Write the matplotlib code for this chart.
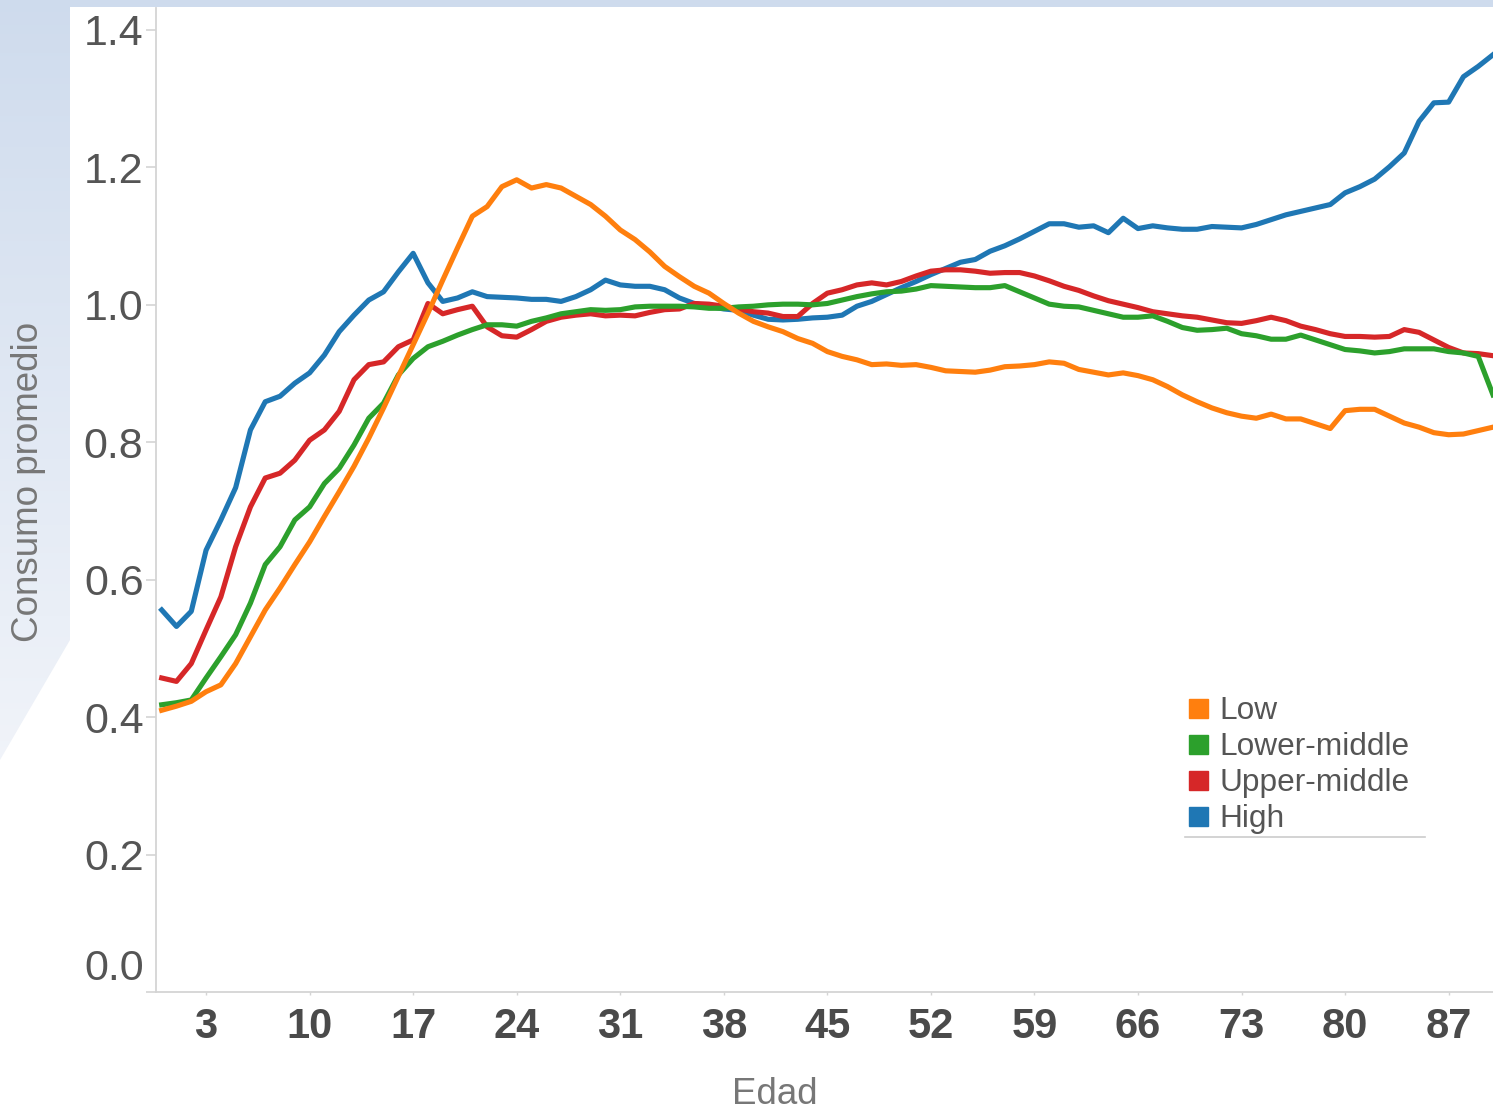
import numpy as np
import matplotlib.pyplot as plt
from matplotlib.patches import Polygon, Rectangle
from matplotlib.transforms import offset_copy

plt.rcParams['font.family'] = ['Liberation Sans', 'DejaVu Sans']

# Data
ages = np.arange(0, 91)

low = [0.410, 0.416, 0.423, 0.437, 0.447, 0.478, 0.517, 0.556, 0.588, 0.622,
       0.655, 0.692, 0.728, 0.765, 0.806, 0.850, 0.896, 0.942, 0.988, 1.036,
       1.083, 1.129, 1.143, 1.172, 1.182, 1.170, 1.175, 1.170, 1.158, 1.146,
       1.129, 1.109, 1.095, 1.077, 1.056, 1.041, 1.027, 1.017, 1.002, 0.988,
       0.976, 0.968, 0.961, 0.951, 0.944, 0.932, 0.925, 0.920, 0.913, 0.914,
       0.912, 0.913, 0.909, 0.904, 0.903, 0.902, 0.905, 0.910, 0.911, 0.913,
       0.917, 0.915, 0.906, 0.902, 0.898, 0.901, 0.897, 0.891, 0.881, 0.869,
       0.859, 0.850, 0.843, 0.838, 0.835, 0.841, 0.834, 0.834, 0.827, 0.820,
       0.846, 0.848, 0.848, 0.838, 0.828, 0.822, 0.814, 0.811, 0.812, 0.817,
       0.822]

lower_middle = [0.418, 0.421, 0.425, 0.457, 0.488, 0.520, 0.566, 0.622, 0.648, 0.687,
                0.706, 0.740, 0.762, 0.796, 0.835, 0.857, 0.898, 0.922, 0.939, 0.947,
                0.956, 0.964, 0.971, 0.971, 0.969, 0.976, 0.981, 0.987, 0.990, 0.993,
                0.992, 0.993, 0.997, 0.998, 0.998, 0.998, 0.997, 0.995, 0.995, 0.997,
                0.998, 1.000, 1.001, 1.001, 1.000, 1.002, 1.007, 1.012, 1.016, 1.019,
                1.020, 1.023, 1.028, 1.027, 1.026, 1.025, 1.025, 1.028, 1.019, 1.010,
                1.001, 0.998, 0.997, 0.992, 0.987, 0.982, 0.982, 0.984, 0.976, 0.967,
                0.963, 0.964, 0.966, 0.958, 0.955, 0.950, 0.950, 0.956, 0.949, 0.942,
                0.935, 0.933, 0.930, 0.932, 0.936, 0.936, 0.936, 0.932, 0.930, 0.925,
                0.869]

upper_middle = [0.457, 0.452, 0.478, 0.527, 0.575, 0.648, 0.706, 0.748, 0.755, 0.774,
                0.803, 0.818, 0.845, 0.891, 0.913, 0.917, 0.939, 0.949, 1.002, 0.987,
                0.993, 0.998, 0.968, 0.955, 0.953, 0.964, 0.976, 0.982, 0.985, 0.987,
                0.984, 0.985, 0.984, 0.989, 0.993, 0.994, 1.002, 1.001, 0.998, 0.994,
                0.990, 0.988, 0.983, 0.983, 1.002, 1.017, 1.022, 1.029, 1.032, 1.029,
                1.034, 1.042, 1.049, 1.051, 1.051, 1.049, 1.046, 1.047, 1.047, 1.042,
                1.035, 1.027, 1.021, 1.013, 1.006, 1.001, 0.996, 0.990, 0.987, 0.984,
                0.982, 0.978, 0.974, 0.973, 0.977, 0.982, 0.977, 0.969, 0.964, 0.958,
                0.954, 0.954, 0.953, 0.954, 0.964, 0.960, 0.949, 0.938, 0.930, 0.929,
                0.926]

high = [0.556, 0.532, 0.554, 0.643, 0.687, 0.734, 0.818, 0.859, 0.867, 0.886,
        0.901, 0.927, 0.961, 0.985, 1.007, 1.019, 1.048, 1.075, 1.032, 1.005,
        1.010, 1.019, 1.012, 1.011, 1.010, 1.008, 1.008, 1.005, 1.012, 1.022,
        1.036, 1.029, 1.027, 1.027, 1.022, 1.010, 1.002, 0.998, 0.994, 0.992,
        0.985, 0.979, 0.978, 0.979, 0.981, 0.982, 0.985, 0.998, 1.005, 1.015,
        1.025, 1.034, 1.044, 1.053, 1.062, 1.066, 1.078, 1.086, 1.096, 1.107,
        1.118, 1.118, 1.113, 1.115, 1.105, 1.126, 1.111, 1.115, 1.112, 1.110,
        1.110, 1.114, 1.113, 1.112, 1.117, 1.124, 1.131, 1.136, 1.141, 1.146,
        1.163, 1.172, 1.183, 1.201, 1.221, 1.267, 1.294, 1.295, 1.332, 1.347,
        1.364]

names = ['Low', 'Lower-middle', 'Upper-middle', 'High']
colors = ['#ff7f0e', '#2ca02c', '#d62728', '#1f77b4']
series = [low, lower_middle, upper_middle, high]

x_ticks = [3, 10, 17, 24, 31, 38, 45, 52, 59, 66, 73, 80, 87]
y_ticks = [0.0, 0.2, 0.4, 0.6, 0.8, 1.0, 1.2, 1.4]

W, H = 1493, 1112
fig = plt.figure(figsize=(W / 100, H / 100), dpi=100, facecolor='white')

# slide background (light blue band on the left and top)
bg = fig.add_axes([0, 0, 1, 1], zorder=-10)
bg.set_xlim(0, W)
bg.set_ylim(H, 0)
bg.axis('off')
grad = np.linspace(0, 1, 256)[:, None, None]
top_c = np.array([0.81, 0.86, 0.93])
bot_c = np.array([0.95, 0.96, 0.98])
img = top_c * (1 - grad) + bot_c * grad
im = bg.imshow(img, extent=(0, W, 800, 0), aspect='auto')
clip = Polygon([(0, 0), (W, 0), (W, 7), (70, 7), (70, 640), (0, 760)],
               closed=True, transform=bg.transData)
im.set_clip_path(clip)

# main axes
ax = fig.add_axes([156 / W, (H - 992) / H, (W - 156) / W, (992 - 8) / H])
ax.set_facecolor('white')

for i in [3, 2, 1, 0]:
    ax.plot(ages, series[i], color=colors[i], lw=3.7, solid_joinstyle='round',
            zorder=2 + (3 - i))

ax.set_xlim(-0.385, 90.0)
ax.set_ylim(0, 1.432)

for s in ['top', 'right']:
    ax.spines[s].set_visible(False)
for s in ['left', 'bottom']:
    ax.spines[s].set_color('#d4d4d4')
    ax.spines[s].set_linewidth(1.3)

ax.set_xticks(x_ticks)
ax.set_yticks(y_ticks)
ax.set_yticklabels([f'{v:.1f}' for v in y_ticks])
ax.tick_params(axis='y', length=7, width=1.2, color='#d4d4d4', pad=2,
               labelsize=31, labelcolor='#555555')
ax.tick_params(axis='x', length=2, width=1, color='#d4d4d4', pad=9,
               labelsize=30, labelcolor='#4a4a4a')
for lab in ax.get_xticklabels():
    lab.set_fontweight('bold')
ylabs = ax.get_yticklabels()
ylabs[0].set_verticalalignment('bottom')
ylabs[0].set_transform(offset_copy(ylabs[0].get_transform(), fig=fig, y=3, units='dots'))

ax.set_xlabel('Edad', fontsize=26.5, color='#777777')
ax.xaxis.set_label_coords(0.463, -0.086)
ax.set_ylabel('Consumo promedio', fontsize=26.5, color='#777777')
ax.yaxis.set_label_coords(-0.0823, 0.518)

# legend drawn as squares + labels
leg_y = [709, 745, 781, 817]
for name, c, yy in zip(names, colors, leg_y):
    fig.patches.append(Rectangle((1189 / W, 1 - (yy + 9) / H), 19 / W, 19 / H,
                                 transform=fig.transFigure, color=c))
    fig.text(1219 / W, 1 - (yy + 2) / H, name, fontsize=22.8, color='#555555',
             va='center', ha='left')
fig.add_artist(plt.Line2D([1185 / W, 1425 / W], [1 - 837 / H, 1 - 837 / H],
                          transform=fig.transFigure, color='#cccccc', lw=1.2))

fig.savefig('out.png', dpi=100, facecolor=fig.get_facecolor())
